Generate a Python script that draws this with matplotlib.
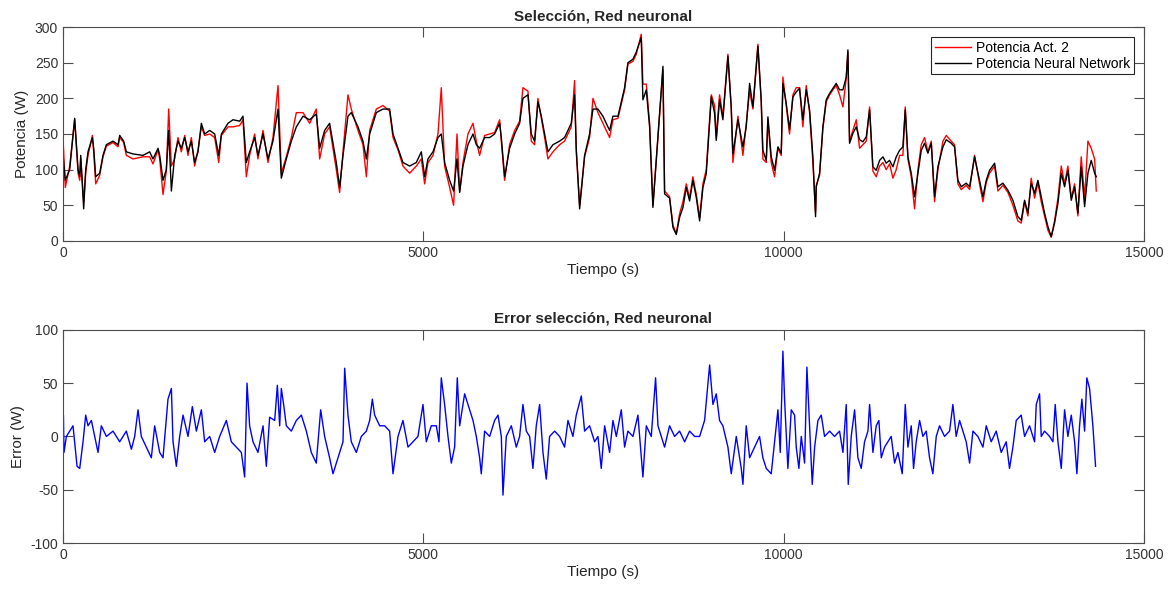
import matplotlib.pyplot as plt

plt.rcParams['font.family'] = ['Liberation Sans', 'DejaVu Sans']
plt.rcParams['axes.unicode_minus'] = False

# tiempos (s) y potencias (W)
t_pot = [0, 32, 93, 162, 209, 232, 246, 287, 315, 347, 408, 426, 454, 509, 555, 602, 694, 764, 787, 842,
         879, 972, 1110, 1203, 1249, 1319, 1342, 1388, 1434, 1467, 1504, 1550, 1596, 1642, 1689, 1735, 1781, 1827, 1874, 1920,
         1966, 2036, 2105, 2161, 2198, 2290, 2359, 2452, 2498, 2544, 2590, 2660, 2706, 2776, 2845, 2914, 2984, 3030, 3099, 3169,
         3238, 3331, 3423, 3515, 3562, 3631, 3700, 3793, 3839, 3886, 3955, 4001, 4094, 4163, 4210, 4256, 4348, 4441, 4533, 4580,
         4649, 4718, 4811, 4903, 4973, 5019, 5065, 5135, 5204, 5250, 5296, 5366, 5421, 5468, 5505, 5551, 5620, 5690, 5736, 5782,
         5851, 5921, 5990, 6060, 6083, 6129, 6198, 6268, 6337, 6383, 6453, 6499, 6545, 6591, 6638, 6684, 6730, 6800, 6892, 6961,
         7008, 7054, 7100, 7123, 7170, 7239, 7308, 7355, 7424, 7493, 7586, 7632, 7702, 7748, 7794, 7840, 7910, 7956, 8025, 8048,
         8095, 8141, 8187, 8326, 8349, 8418, 8465, 8511, 8557, 8604, 8650, 8696, 8742, 8789, 8835, 8881, 8927, 8997, 9043, 9066,
         9112, 9158, 9228, 9274, 9297, 9367, 9436, 9482, 9529, 9575, 9644, 9690, 9713, 9760, 9783, 9829, 9875, 9922, 9968, 9991,
         10037, 10083, 10130, 10176, 10222, 10268, 10315, 10361, 10407, 10444, 10454, 10500, 10546, 10592, 10639, 10685, 10731, 10777, 10824, 10870,
         10893, 10916, 10963, 11009, 11055, 11101, 11148, 11194, 11240, 11286, 11333, 11379, 11425, 11471, 11518, 11564, 11610, 11656, 11689, 11726,
         11772, 11818, 11865, 11911, 11957, 12003, 12050, 12096, 12142, 12212, 12258, 12327, 12373, 12420, 12466, 12535, 12582, 12651, 12720, 12767,
         12813, 12859, 12929, 12975, 13044, 13114, 13183, 13252, 13299, 13345, 13391, 13437, 13484, 13530, 13576, 13622, 13669, 13715, 13761, 13808,
         13854, 13900, 13946, 13993, 14039, 14085, 14131, 14178, 14224, 14270, 14317, 14340]

pot_red = [120, 85, 100, 172, 100, 90, 120, 45, 100, 125, 145, 130, 90, 95, 120, 135, 140, 135, 148, 140,
           125, 122, 120, 125, 115, 130, 120, 85, 100, 155, 70, 120, 140, 130, 145, 125, 140, 110, 125, 165,
           150, 155, 150, 120, 150, 165, 170, 168, 175, 110, 125, 145, 120, 150, 115, 140, 185, 88, 115, 140,
           160, 175, 170, 178, 130, 155, 165, 110, 75, 120, 175, 180, 160, 140, 115, 150, 180, 185, 185, 150,
           130, 110, 105, 110, 125, 90, 115, 125, 145, 150, 110, 85, 70, 115, 68, 105, 135, 150, 135, 130,
           145, 145, 150, 165, 145, 90, 130, 150, 165, 200, 205, 150, 140, 195, 175, 150, 125, 135, 140, 145,
           155, 165, 205, 130, 45, 120, 150, 185, 185, 175, 155, 175, 175, 195, 215, 250, 255, 265, 285, 198,
           212, 160, 47, 245, 66, 60, 19, 9, 33, 47, 75, 56, 85, 61, 28, 75, 94, 202, 179, 141,
           198, 170, 259, 188, 122, 170, 132, 160, 221, 188, 273, 198, 127, 113, 174, 118, 99, 132, 123, 221,
           193, 156, 202, 209, 214, 170, 212, 184, 118, 34, 76, 95, 160, 198, 207, 214, 221, 212, 212, 230,
           268, 137, 151, 160, 142, 139, 146, 184, 104, 99, 113, 118, 109, 113, 104, 118, 127, 132, 184, 118,
           95, 62, 95, 127, 137, 123, 137, 62, 104, 132, 142, 137, 132, 85, 76, 81, 76, 118, 85, 62,
           85, 99, 109, 76, 81, 71, 57, 34, 29, 57, 39, 81, 67, 85, 62, 39, 20, 6, 25, 53,
           95, 76, 99, 57, 76, 39, 104, 48, 95, 113, 95, 90]

pot_act = [145, 75, 105, 170, 95, 85, 115, 55, 95, 120, 148, 125, 80, 92, 118, 133, 138, 132, 145, 138,
           120, 115, 118, 118, 108, 128, 115, 65, 98, 185, 105, 115, 145, 125, 148, 120, 145, 105, 128, 160,
           148, 150, 145, 110, 148, 160, 160, 162, 170, 90, 120, 150, 115, 155, 110, 145, 218, 95, 118, 145,
           180, 180, 165, 185, 115, 150, 160, 100, 68, 125, 205, 185, 155, 135, 90, 155, 185, 190, 182, 145,
           128, 105, 95, 105, 115, 80, 110, 120, 150, 215, 105, 75, 50, 150, 70, 110, 150, 165, 140, 120,
           148, 150, 152, 170, 140, 85, 135, 155, 168, 215, 210, 140, 135, 200, 172, 145, 115, 125, 135, 140,
           150, 160, 225, 125, 50, 118, 145, 200, 180, 165, 145, 170, 172, 192, 212, 248, 252, 262, 290, 220,
           220, 165, 50, 240, 70, 62, 22, 10, 38, 55, 80, 60, 90, 65, 32, 80, 100, 205, 190, 145,
           205, 175, 262, 185, 110, 175, 120, 165, 210, 185, 276, 195, 115, 110, 170, 110, 90, 130, 120, 230,
           190, 150, 205, 215, 215, 160, 218, 180, 110, 40, 78, 92, 158, 195, 205, 212, 218, 205, 188, 228,
           265, 140, 155, 170, 130, 135, 140, 188, 98, 90, 105, 110, 100, 108, 88, 100, 120, 120, 188, 115,
           90, 45, 100, 135, 145, 125, 140, 55, 100, 140, 148, 140, 135, 80, 72, 78, 72, 120, 80, 55,
           82, 95, 105, 70, 78, 68, 50, 28, 25, 55, 35, 88, 60, 82, 55, 35, 15, 5, 28, 60,
           105, 80, 105, 60, 80, 35, 118, 60, 140, 130, 115, 70]

t_err = [0, 5, 14, 47, 93, 139, 195, 232, 278, 315, 347, 394, 440, 486, 532, 602, 694, 787, 879, 949,
         995, 1041, 1087, 1157, 1226, 1272, 1342, 1388, 1457, 1504, 1527, 1573, 1619, 1666, 1735, 1795, 1851, 1920, 1966, 2036,
         2105, 2174, 2267, 2336, 2406, 2475, 2521, 2554, 2590, 2637, 2706, 2776, 2822, 2868, 2938, 2975, 3007, 3030, 3062, 3099,
         3169, 3238, 3308, 3377, 3446, 3515, 3576, 3631, 3700, 3747, 3793, 3839, 3886, 3909, 3955, 4001, 4071, 4140, 4210, 4256,
         4293, 4325, 4395, 4464, 4533, 4580, 4649, 4718, 4788, 4857, 4926, 4996, 5042, 5111, 5181, 5218, 5250, 5296, 5343, 5389,
         5435, 5472, 5505, 5574, 5620, 5690, 5736, 5782, 5805, 5851, 5921, 5990, 6037, 6083, 6106, 6152, 6222, 6291, 6337, 6383,
         6430, 6476, 6522, 6568, 6615, 6661, 6707, 6753, 6823, 6892, 6961, 7008, 7077, 7123, 7193, 7239, 7308, 7378, 7424, 7470,
         7517, 7586, 7632, 7679, 7748, 7794, 7840, 7910, 7979, 8048, 8095, 8164, 8224, 8257, 8303, 8349, 8418, 8488, 8557, 8627,
         8696, 8766, 8835, 8904, 8974, 9020, 9066, 9112, 9158, 9228, 9274, 9344, 9413, 9436, 9482, 9529, 9598, 9667, 9713, 9760,
         9829, 9875, 9922, 9954, 9991, 10014, 10060, 10107, 10153, 10176, 10213, 10246, 10292, 10324, 10361, 10398, 10431, 10477, 10523, 10569,
         10639, 10708, 10777, 10824, 10870, 10898, 10939, 10986, 11032, 11078, 11124, 11171, 11194, 11240, 11286, 11323, 11356, 11402, 11448, 11494,
         11541, 11587, 11647, 11689, 11726, 11772, 11804, 11841, 11888, 11934, 11980, 12026, 12072, 12119, 12165, 12234, 12304, 12350, 12396, 12443,
         12489, 12535, 12582, 12628, 12697, 12767, 12813, 12882, 12951, 13021, 13090, 13136, 13183, 13229, 13298, 13345, 13414, 13484, 13507, 13553,
         13576, 13622, 13692, 13738, 13770, 13808, 13854, 13900, 13946, 13993, 14039, 14071, 14108, 14140, 14178, 14209, 14247, 14293, 14330]

error = [-95, 20, -15, 0, 5, 10, -28, -30, -5, 20, 10, 15, 0, -15, 10, 0, 5, -5, 5, -12,
         0, 25, 0, -10, -20, 10, -15, -20, 35, 45, -5, -28, 0, 20, 0, 28, 5, 25, -5, 0,
         -15, 0, 15, -5, -10, -15, -38, 50, 10, -5, -15, 10, -28, 18, 15, 48, 10, 45, 30, 10,
         5, 15, 20, 5, -15, -25, 25, 0, -20, -35, -25, -15, -5, 64, 20, -5, -15, 0, 5, 15,
         35, 20, 10, 10, 5, -35, 0, 15, -10, -5, 0, 30, -5, 10, 10, -5, 55, 30, 0, -25,
         -10, 55, 10, 40, 30, 15, 0, -20, -35, 5, 0, 15, 20, 0, -55, 0, 10, -10, 0, 30,
         5, 0, -30, 10, 30, -15, -40, 0, 5, 0, -10, 15, 0, 20, 38, 5, 10, -5, 0, -30,
         10, -15, 15, 0, 25, -10, 5, 0, 20, -38, 10, 0, 55, 10, 0, -10, 10, 0, 5, -5,
         5, 0, 0, 15, 67, 30, 40, 15, 10, -10, -35, 0, -30, -45, 10, -20, -10, 0, -20, -30,
         -35, -5, 25, -15, 80, 35, -30, 25, 20, -10, -30, 0, -25, 65, 10, -45, -10, 15, 20, 0,
         5, 0, 5, -15, 30, -45, 0, 25, -20, -30, -5, 5, 30, -15, 10, 15, -20, -10, -5, 0,
         -25, -15, -35, 30, -10, 10, -30, -5, 15, 0, 5, -20, -35, 0, 10, 0, 5, 30, 0, 15,
         5, -5, -25, 5, 0, -10, 10, -5, 5, -15, -5, -30, -10, 15, 20, 0, 10, -5, 30, 40,
         0, 5, 0, -5, 30, -5, -30, 25, 0, 20, -5, -35, 10, 35, 5, 55, 45, 10, -28]

fig = plt.figure(figsize=(11.71, 5.89), dpi=100)
ax1 = fig.add_axes([0.0538, 0.591, 0.923, 0.363])
ax2 = fig.add_axes([0.0538, 0.078, 0.923, 0.362])

gris = '#4d4d4d'

ax1.plot(t_pot, pot_act, color='r', lw=1.0, label='Potencia Act. 2')
ax1.plot(t_pot, pot_red, color='k', lw=1.0, label='Potencia Neural Network')
ax1.set_xlim(0, 15000)
ax1.set_ylim(0, 300)
ax1.set_yticks(range(0, 301, 50))
ax1.set_xticks([0, 5000, 10000, 15000])
ax1.set_title('Selección, Red neuronal', fontsize=11, fontweight='bold', color='#262626', pad=5)
ax1.set_xlabel('Tiempo (s)', fontsize=11, color='#262626', labelpad=2)
ax1.set_ylabel('Potencia (W)', fontsize=11, color='#262626', labelpad=4)
leg = ax1.legend(loc='upper right', fontsize=10, fancybox=False, framealpha=1,
                 edgecolor='#262626', borderpad=0.25, handlelength=2.6, handletextpad=0.4,
                 labelspacing=0.15, borderaxespad=0, bbox_to_anchor=(0.991, 0.953))
leg.get_frame().set_linewidth(0.8)

ax2.plot(t_err, error, color='b', lw=1.0)
ax2.set_xlim(0, 15000)
ax2.set_ylim(-100, 100)
ax2.set_yticks(range(-100, 101, 50))
ax2.set_xticks([0, 5000, 10000, 15000])
ax2.set_title('Error selección, Red neuronal', fontsize=11, fontweight='bold', color='#262626', pad=5)
ax2.set_xlabel('Tiempo (s)', fontsize=11, color='#262626', labelpad=2)
ax2.set_ylabel('Error (W)', fontsize=11, color='#262626', labelpad=4)

for ax in (ax1, ax2):
    ax.tick_params(direction='in', length=7, width=0.8, top=True, right=True,
                   labelsize=10, colors=gris, labelcolor='#333333')
    for s in ax.spines.values():
        s.set_color(gris)
        s.set_linewidth(0.8)

plt.savefig('out.png', dpi=100)
